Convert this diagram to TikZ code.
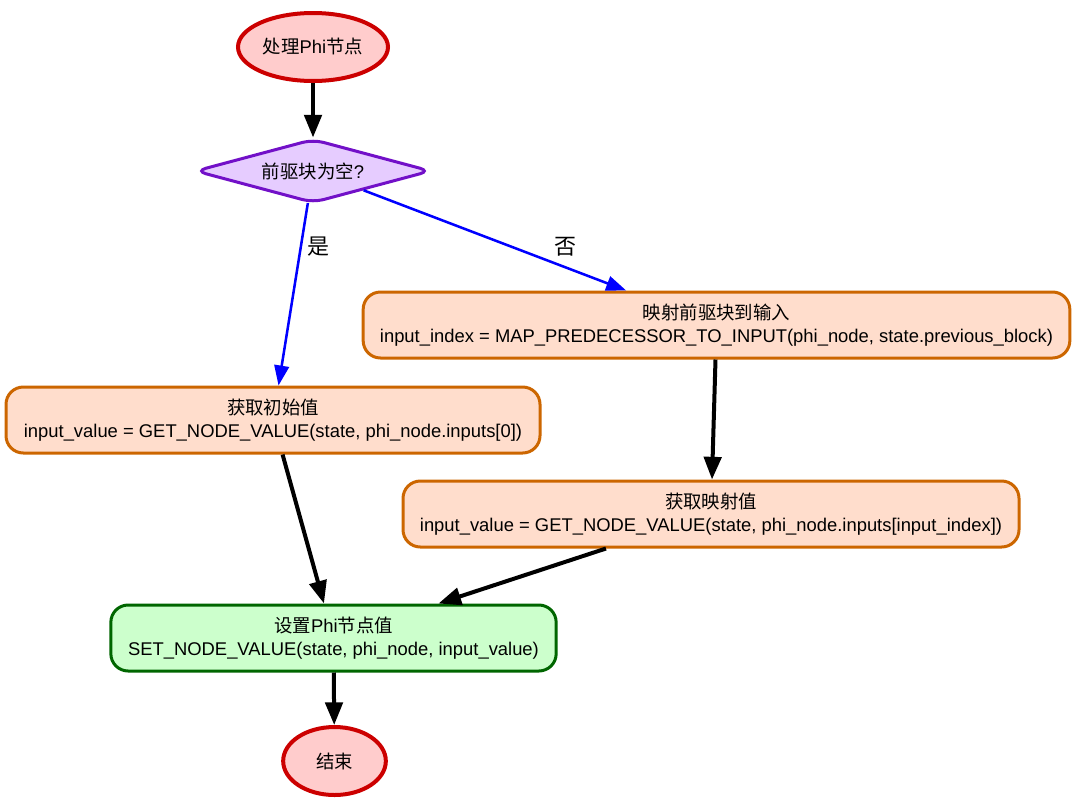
\documentclass[tikz,border=0pt]{standalone}
\usepackage{fontspec}
\setmainfont{Liberation Sans}
\newfontfamily\cjk{Noto Sans CJK SC}
\usepackage{tikz}
\usetikzlibrary{positioning,arrows.meta,shapes.geometric}
\definecolor{termRed}{HTML}{CC0000}
\definecolor{termRedLt}{HTML}{FFCCCC}
\definecolor{decPurple}{HTML}{7210C8}
\definecolor{decPurpleLt}{HTML}{E6CCFF}
\definecolor{procOrange}{HTML}{CC6600}
\definecolor{procOrangeLt}{HTML}{FFDDCC}
\definecolor{setGreen}{HTML}{006600}
\definecolor{setGreenLt}{HTML}{CCFFCC}
\definecolor{edgeBlue}{HTML}{0000FF}
\newcommand{\zh}[1]{{\cjk #1}}
\tikzset{
  basefont/.style={font=\fontsize{13.8}{17.25}\selectfont},
  termnode/.style={ellipse, draw=termRed, fill=termRedLt, line width=3pt,
                   minimum width=112.5pt, minimum height=51pt, inner sep=1pt,
                   basefont},
  decnode/.style={diamond, aspect=3.7, draw=decPurple, fill=decPurpleLt,
                  line width=2.25pt, minimum width=177pt, minimum height=48pt,
                  inner sep=0pt, rounded corners=8pt, basefont},
  procnode/.style={rectangle, rounded corners=13pt, draw=procOrange,
                   fill=procOrangeLt, line width=2.25pt, minimum height=49.5pt,
                   align=center, inner sep=2pt, basefont},
  setnode/.style={procnode, draw=setGreen, fill=setGreenLt},
  stdarrow/.style={-{Triangle[length=17pt, width=13pt]}, line width=3pt},
  choicearrow/.style={-{Triangle[length=15pt, width=11pt]}, line width=1.9pt,
                      edgeBlue},
  edgelbl/.style={font=\fontsize{16.5}{18}\selectfont\cjk},
}
\begin{document}
\begin{tikzpicture}[x=0.75pt, y=-0.75pt]
\useasboundingbox (0,0) rectangle (1080,807);

%% Nodes
\node[termnode] (start) at (313,47) {\zh{处理}Phi\zh{节点}};
\node[decnode] (predempty) at (313,171) {\zh{前驱块为空}?};
\node[procnode, minimum width=530pt] (mapinput) at (716.5,325)
  {\zh{映射前驱块到输入}\\input\_index = MAP\_PREDECESSOR\_TO\_INPUT(phi\_node, state.previous\_block)};
\node[procnode, minimum width=400.5pt] (getinit) at (273,420)
  {\zh{获取初始值}\\input\_value = GET\_NODE\_VALUE(state, phi\_node.inputs[0])};
\node[procnode, minimum width=462pt] (getmapped) at (711,514)
  {\zh{获取映射值}\\input\_value = GET\_NODE\_VALUE(state, phi\_node.inputs[input\_index])};
\node[setnode, minimum width=334pt] (setphi) at (333.5,638)
  {\zh{设置}Phi\zh{节点值}\\SET\_NODE\_VALUE(state, phi\_node, input\_value)};
\node[termnode, minimum width=77pt] (finish) at (334.5,761) {\zh{结束}};

%% Edge labels
\node[edgelbl] (yeslbl) at (318,247) {是};
\node[edgelbl] (nolbl) at (565,247) {否};

%% Connectors
\draw[stdarrow] (start) -- (predempty);
\draw[choicearrow] (predempty) -- (getinit);
\draw[choicearrow] (predempty) -- (mapinput);
\draw[stdarrow] (mapinput) -- (getmapped);
\draw[stdarrow] (getinit) -- (setphi);
\draw[stdarrow] (getmapped) -- (setphi);
\draw[stdarrow] (setphi) -- (finish);
\end{tikzpicture}
\end{document}
